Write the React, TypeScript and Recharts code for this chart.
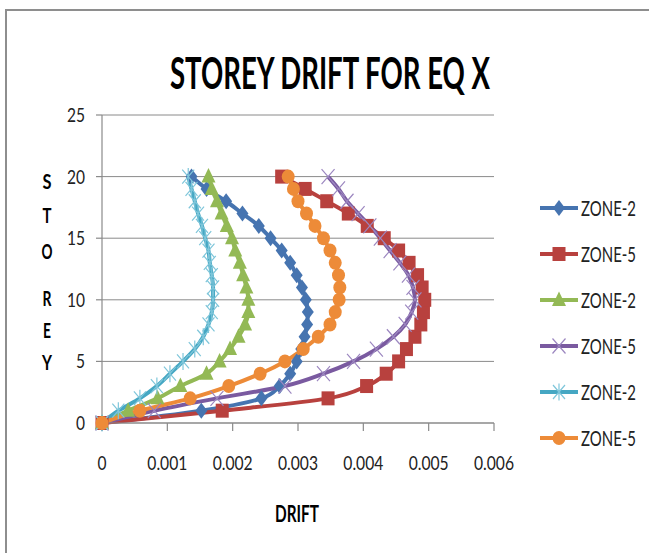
import React, { useLayoutEffect, useRef, useState } from 'react';
import { ComposedChart, Line, XAxis, YAxis, CartesianGrid } from 'recharts';

// storey levels (y) and drift per storey (x) for each series
const storeys = [0, 1, 2, 3, 4, 5, 6, 7, 8, 9, 10, 11, 12, 13, 14, 15, 16, 17, 18, 19, 20];

const zone2Diamond = [0, 0.00152, 0.00244, 0.00272, 0.00288, 0.00298, 0.00305, 0.0031, 0.00314, 0.00315, 0.00312, 0.00306, 0.00298, 0.00288, 0.00275, 0.00258, 0.0024, 0.00215, 0.0019, 0.0016, 0.00137];
const zone5Square = [0, 0.00184, 0.00346, 0.00405, 0.00435, 0.00454, 0.00466, 0.00479, 0.00488, 0.00492, 0.00494, 0.0049, 0.00483, 0.0047, 0.00454, 0.00432, 0.00406, 0.00377, 0.00344, 0.00311, 0.00275];
const zone2Triangle = [0, 0.0004, 0.00085, 0.0012, 0.0016, 0.0018, 0.00196, 0.00209, 0.00219, 0.00224, 0.00224, 0.00221, 0.00216, 0.00211, 0.00204, 0.00199, 0.00191, 0.00183, 0.00176, 0.00168, 0.00163];
const zone5Cross = [0, 0.0008, 0.00176, 0.0028, 0.00339, 0.00385, 0.0042, 0.00446, 0.00464, 0.00474, 0.00479, 0.00476, 0.00469, 0.00456, 0.00441, 0.00426, 0.0041, 0.00392, 0.00375, 0.00362, 0.00346];
const zone2Star = [0, 0.00025, 0.00058, 0.00084, 0.00104, 0.00124, 0.00142, 0.00155, 0.00163, 0.00168, 0.0017, 0.0017, 0.00168, 0.00165, 0.00163, 0.00158, 0.00153, 0.00147, 0.00142, 0.00137, 0.00132];
const zone5Circle = [0, 0.00058, 0.00135, 0.00194, 0.00242, 0.0028, 0.00308, 0.00331, 0.00349, 0.00357, 0.00363, 0.00364, 0.00362, 0.00357, 0.00349, 0.00339, 0.00326, 0.00313, 0.003, 0.00293, 0.00285];

const seriesNames = ['ZONE-2', 'ZONE-5', 'ZONE-2', 'ZONE-5', 'ZONE-2', 'ZONE-5'];
const xTicks = [0, 0.001, 0.002, 0.003, 0.004, 0.005, 0.006];
const yTicks = [0, 5, 10, 15, 20, 25];
const yTitleLetters = ['S', 'T', 'O', 'R', 'E', 'Y'];

const FONT = 'Lato, "Open Sans", sans-serif';
const AXIS = '#8a8a8a';

type Shape = 'diamond' | 'square' | 'triangle' | 'cross' | 'star' | 'circle';

const series: { name: string; values: number[]; color: string; markColor: string; shape: Shape }[] = [
  { name: seriesNames[0], values: zone2Diamond, color: '#4674b0', markColor: '#4674b0', shape: 'diamond' },
  { name: seriesNames[1], values: zone5Square, color: '#b8413e', markColor: '#b8413e', shape: 'square' },
  { name: seriesNames[2], values: zone2Triangle, color: '#93b955', markColor: '#93b955', shape: 'triangle' },
  { name: seriesNames[3], values: zone5Cross, color: '#7a5aa0', markColor: '#9c87c0', shape: 'cross' },
  { name: seriesNames[4], values: zone2Star, color: '#45a7c3', markColor: '#7fc6da', shape: 'star' },
  { name: seriesNames[5], values: zone5Circle, color: '#ed8b38', markColor: '#ed8b38', shape: 'circle' },
];

const toPoints = (vals: number[]) => storeys.map((s, i) => ({ x: vals[i], y: s }));

function Marker({ shape, cx, cy, color }: { shape: Shape; cx: number; cy: number; color: string }) {
  switch (shape) {
    case 'diamond':
      return <path d={`M${cx},${cy - 8} L${cx + 6},${cy} L${cx},${cy + 8} L${cx - 6},${cy} Z`} fill={color} />;
    case 'square':
      return <rect x={cx - 6.5} y={cy - 7} width={13} height={14} fill={color} />;
    case 'triangle':
      return <path d={`M${cx},${cy - 8.5} L${cx + 7},${cy + 6} L${cx - 7},${cy + 6} Z`} fill={color} />;
    case 'cross':
      return (
        <path
          d={`M${cx - 6.5},${cy - 7.5} L${cx + 6.5},${cy + 7.5} M${cx + 6.5},${cy - 7.5} L${cx - 6.5},${cy + 7.5}`}
          stroke={color}
          strokeWidth={1.2}
          fill="none"
        />
      );
    case 'star':
      return (
        <path
          d={`M${cx - 6},${cy - 7} L${cx + 6},${cy + 7} M${cx + 6},${cy - 7} L${cx - 6},${cy + 7} M${cx},${cy - 8.5} L${cx},${cy + 8.5}`}
          stroke={color}
          strokeWidth={1.2}
          fill="none"
        />
      );
    default:
      return <ellipse cx={cx} cy={cy} rx={6.5} ry={7} fill={color} />;
  }
}

// text squeezed horizontally to a given width, the reference glyphs are narrow and tall
function FitText({
  x,
  y,
  width,
  anchor = 'start',
  size,
  weight = 400,
  fill = '#222',
  children,
}: {
  x: number;
  y: number;
  width: number;
  anchor?: 'start' | 'middle' | 'end';
  size: number;
  weight?: number;
  fill?: string;
  children: string;
}) {
  const ref = useRef<SVGTextElement>(null);
  const [sx, setSx] = useState(0.7);
  useLayoutEffect(() => {
    const w = ref.current ? ref.current.getComputedTextLength() : 0;
    if (w > 0) setSx(width / w);
  }, [width, children, size]);
  return (
    <text
      ref={ref}
      x={0}
      y={0}
      transform={`translate(${x},${y}) scale(${sx},1)`}
      textAnchor={anchor}
      fontFamily={FONT}
      fontSize={size}
      fontWeight={weight}
      fill={fill}
    >
      {children}
    </text>
  );
}

const numWidth = (s: string) => s.split('').reduce((w, c) => w + (c === '.' ? 4 : 9), 0);

function XTick(props: any) {
  const { x, y, payload } = props;
  const v: number = payload.value;
  const label = v === 0 ? '0' : v.toFixed(3);
  return <FitText x={x} y={y + 37} anchor="middle" size={20} width={numWidth(label)}>{label}</FitText>;
}

function YTick(props: any) {
  const { x, y, payload } = props;
  const label = String(payload.value);
  return <FitText x={x} y={y + 7} anchor="end" size={20} width={numWidth(label)}>{label}</FitText>;
}

const letterY = [181, 215, 251, 298, 330, 362];
const letterW = [9, 9, 11, 9, 8, 10];
const legendY = [208, 254, 300, 346, 392, 438];

export default function App() {
  return (
    <div style={{ position: 'fixed', left: 0, top: 0, width: 649, height: 553, overflow: 'hidden', background: '#fff' }}>
      <div
        style={{
          position: 'absolute',
          left: 5,
          top: 9,
          width: 700,
          height: 600,
          border: '2px solid #8e8e8e',
          boxSizing: 'border-box',
        }}
      />
      <div style={{ position: 'absolute', left: 0, top: 0 }}>
        <ComposedChart width={649} height={553} margin={{ top: 115, right: 155, bottom: 100, left: 42 }}>
          <CartesianGrid vertical={false} stroke={AXIS} strokeWidth={1} />
          <XAxis
            type="number"
            dataKey="x"
            domain={[0, 0.006]}
            ticks={xTicks}
            interval={0}
            height={30}
            tickSize={8}
            axisLine={{ stroke: AXIS, strokeWidth: 1.2 }}
            tickLine={{ stroke: AXIS, strokeWidth: 1.2 }}
            tick={<XTick />}
          />
          <YAxis
            type="number"
            dataKey="y"
            domain={[0, 25]}
            ticks={yTicks}
            interval={0}
            width={60}
            tickSize={6}
            tickMargin={11}
            axisLine={{ stroke: AXIS, strokeWidth: 1.2 }}
            tickLine={{ stroke: AXIS, strokeWidth: 1.2 }}
            tick={<YTick />}
          />
          {series.map((s, si) => (
            <Line
              key={si}
              data={toPoints(s.values)}
              dataKey="y"
              name={s.name}
              type="monotoneY"
              stroke={s.color}
              strokeWidth={4}
              isAnimationActive={false}
              dot={(p: any) => (
                <Marker key={`m${si}-${p.index}`} shape={s.shape} cx={p.cx} cy={p.cy} color={s.markColor} />
              )}
              activeDot={false}
            />
          ))}
        </ComposedChart>
      </div>
      <svg width={649} height={553} style={{ position: 'absolute', left: 0, top: 0, pointerEvents: 'none' }}>
        <FitText x={330} y={89} anchor="middle" size={44} weight={700} fill="#000" width={320}>
          STOREY DRIFT FOR EQ X
        </FitText>
        {yTitleLetters.map((l, i) => (
          <FitText key={i} x={47} y={letterY[i] + 8} anchor="middle" size={21} weight={700} fill="#000" width={letterW[i]}>
            {l}
          </FitText>
        ))}
        <FitText x={297} y={522} anchor="middle" size={22} weight={700} fill="#000" width={44}>
          DRIFT
        </FitText>
        {series.map((s, i) => (
          <g key={i}>
            <line x1={540} x2={578} y1={legendY[i]} y2={legendY[i]} stroke={s.color} strokeWidth={4} />
            <Marker shape={s.shape} cx={559} cy={legendY[i]} color={s.markColor} />
            <FitText x={581} y={legendY[i] + 7.5} size={21} width={55}>
              {s.name}
            </FitText>
          </g>
        ))}
      </svg>
    </div>
  );
}
